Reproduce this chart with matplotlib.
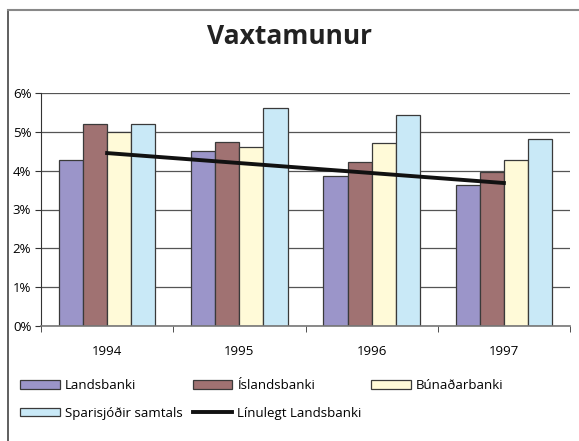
import numpy as np
import matplotlib.pyplot as plt
from matplotlib.lines import Line2D
from matplotlib.ticker import FixedLocator

# Gögn lesin af myndinni (vaxtamunur í %)
ar = ["1994", "1995", "1996", "1997"]
landsbanki = [4.28, 4.50, 3.85, 3.64]
islandsbanki = [5.20, 4.73, 4.22, 3.96]
bunadarbanki = [5.00, 4.60, 4.72, 4.27]
sparisjodir = [5.20, 5.61, 5.43, 4.81]

nofn = ["Landsbanki", "Íslandsbanki", "Búnaðarbanki", "Sparisjóðir samtals"]
litir = ["#9b95c9", "#a07272", "#fffad8", "#c9e9f7"]

plt.rcParams['font.family'] = ['Open Sans', 'DejaVu Sans']

fig = plt.figure(figsize=(5.79, 4.41), dpi=100)
ax = fig.add_axes([41 / 579, 1 - 326 / 441, 529 / 579, 233 / 441])

x = np.arange(len(ar))
breidd = 0.182
radir = [landsbanki, islandsbanki, bunadarbanki, sparisjodir]
sulur = []
for i, (gildi, nafn, litur) in enumerate(zip(radir, nofn, litir)):
    b = ax.bar(x + (i - 1.5) * breidd, gildi, width=breidd, color=litur,
               edgecolor="#3a3a3a", linewidth=0.9, label=nafn, zorder=2)
    sulur.append(b)

# Línuleg leitni Landsbanka
hallatala, skurdpunktur = np.polyfit(x, landsbanki, 1)
lina, = ax.plot(x, hallatala * x + skurdpunktur, color="#111111", linewidth=2.8,
                label="Línulegt Landsbanki", zorder=3)

ax.set_xlim(-0.5, 3.5)
ax.set_ylim(0, 6)
ax.set_yticks(range(7))
ax.set_yticklabels([f"{v}%" for v in range(7)], fontsize=9.5)
ax.yaxis.grid(True, color="#555555", linewidth=0.9, zorder=0)
ax.set_axisbelow(True)

ax.set_xticks(x)
ax.set_xticklabels(ar, fontsize=9.5)
ax.xaxis.set_minor_locator(FixedLocator(np.arange(-0.5, 4.0, 1.0)))
ax.tick_params(axis="x", which="major", length=0, pad=14)
ax.tick_params(axis="x", which="minor", length=4, color="#333333")
ax.tick_params(axis="y", length=4, color="#333333", pad=3)

for s in ["top", "right"]:
    ax.spines[s].set_visible(False)
ax.spines["left"].set_color("#333333")
ax.spines["bottom"].set_color("#777777")
ax.spines["bottom"].set_linewidth(1.2)

fig.text(0.5, 1 - 37 / 441, "Vaxtamunur", ha="center", va="center",
         fontsize=19, fontweight="bold", color="#222222")

# Skýringar, raðað í línur (dálkaröð: L, S, Í, Lín, B)
handfong = [sulur[0], sulur[3], sulur[1], lina, sulur[2]]
merki = [nofn[0], nofn[3], nofn[1], "Línulegt Landsbanki", nofn[2]]
fig.legend(handfong, merki, ncol=3,
           loc="lower left", bbox_to_anchor=(15 / 579, 1 - 425 / 441, 494 / 579, 0.1),
           mode="expand", frameon=False, fontsize=9.5, handlelength=3.0,
           handleheight=0.6, handletextpad=0.4, labelspacing=1.1, borderaxespad=0)

# Rammi kringum myndina
fig.add_artist(Line2D([8 / 579, 8 / 579], [0, 1 - 10 / 441], transform=fig.transFigure,
                      color="#444444", linewidth=1.2))
fig.add_artist(Line2D([8 / 579, 1], [1 - 10 / 441, 1 - 10 / 441], transform=fig.transFigure,
                      color="#888888", linewidth=1.5))

fig.savefig("out.png", dpi=100)
